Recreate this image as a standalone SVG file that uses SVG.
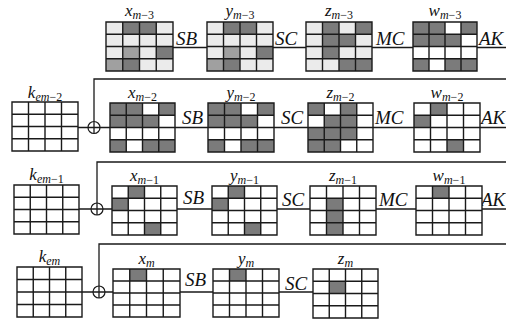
<svg xmlns="http://www.w3.org/2000/svg" xmlns:xlink="http://www.w3.org/1999/xlink" width="506" height="322" viewBox="0 0 506 322">
<style>
.bgw{fill:#fff}
.bgl{fill:#ebebeb}
.d{fill:#7b7b7b}
.m{fill:#a0a0a0}
.gl{fill:none;stroke:#1a1a1a;stroke-width:1.4;vector-effect:non-scaling-stroke}
.ln{fill:none;stroke:#1a1a1a;stroke-width:1.3}
.op{font-family:"Liberation Serif","Times New Roman",serif;font-style:italic;font-size:19px;fill:#111}
.lb{font-family:"Liberation Serif","Times New Roman",serif;font-style:italic;font-size:17px;fill:#111}
.sb{font-size:12px}
.up{font-style:normal}
.xo{fill:#fff;stroke:#1a1a1a;stroke-width:1.2}
</style>
<defs>
<path id="grid" class="gl" d="M0,0H4V4H0Z M1,0V4 M2,0V4 M3,0V4 M0,1H4 M0,2H4 M0,3H4"/>
<g id="xor"><circle class="xo" cx="0" cy="0" r="6"/><path class="ln" d="M-6,0H6M0,-6V6" stroke-width="1.1"/></g>
</defs>

<g id="connectors">
<path class="ln" d="M173,47.5H207 M273,47.5H306 M372,47.5H413 M477,47.5H506"/>
<path class="ln" d="M78,127.5H88 M100,127.5H110 M175,127.5H208 M274,127.5H308 M373,127.5H414 M480,127.5H506"/>
<path class="ln" d="M506,79H94V121.5"/>
<path class="ln" d="M79,209H91 M103,209H112 M177,209H212 M277,209H310 M376,209H416 M482,209H506"/>
<path class="ln" d="M506,162H97V203"/>
<path class="ln" d="M82,292H93 M105,292H113 M180,292H213 M279,292H313"/>
<path class="ln" d="M506,244H99V286"/>
</g>

<g id="ops">
<text class="op" x="176" y="45">SB</text>
<text class="op" x="275" y="45">SC</text>
<text class="op" x="376" y="45">MC</text>
<text class="op" x="479" y="45">AK</text>
<text class="op" x="182" y="124">SB</text>
<text class="op" x="281" y="124">SC</text>
<text class="op" x="375" y="124">MC</text>
<text class="op" x="481" y="124">AK</text>
<text class="op" x="183" y="204">SB</text>
<text class="op" x="282" y="206">SC</text>
<text class="op" x="379" y="206">MC</text>
<text class="op" x="481" y="206">AK</text>
<text class="op" x="185" y="286">SB</text>
<text class="op" x="285" y="290">SC</text>
</g>

<!-- Row m-3 -->
<g id="x_m3">
<text class="lb" x="139.5" y="16" text-anchor="middle">x<tspan class="sb" dy="3">m<tspan class="up">−3</tspan></tspan></text>
<g transform="translate(106,22) scale(16.75,12.25)">
<rect class="bgl" width="4" height="4"/>
<rect class="d" x="1" y="0" width="1" height="1"/><rect class="d" x="2" y="0" width="1" height="1"/>
<rect class="d" x="3" y="2" width="1" height="1"/><rect class="d" x="1" y="3" width="1" height="1"/>
<rect class="m" x="1" y="2" width="1" height="1"/><rect class="m" x="0" y="3" width="1" height="1"/>
<use href="#grid"/>
</g>
</g>
<g id="y_m3">
<text class="lb" x="240" y="16" text-anchor="middle">y<tspan class="sb" dy="3">m<tspan class="up">−3</tspan></tspan></text>
<g transform="translate(207,22) scale(16.5,12.25)">
<rect class="bgl" width="4" height="4"/>
<rect class="d" x="1" y="0" width="1" height="1"/><rect class="d" x="2" y="0" width="1" height="1"/>
<rect class="d" x="3" y="2" width="1" height="1"/><rect class="d" x="1" y="3" width="1" height="1"/>
<rect class="m" x="1" y="2" width="1" height="1"/><rect class="m" x="0" y="3" width="1" height="1"/>
<use href="#grid"/>
</g>
</g>
<g id="z_m3">
<text class="lb" x="339" y="16" text-anchor="middle">z<tspan class="sb" dy="3">m<tspan class="up">−3</tspan></tspan></text>
<g transform="translate(306,22) scale(16.5,12.25)">
<rect class="bgl" width="4" height="4"/>
<rect class="d" x="1" y="0" width="1" height="1"/><rect class="d" x="3" y="0" width="1" height="1"/>
<rect class="d" x="1" y="1" width="1" height="1"/><rect class="d" x="2" y="1" width="1" height="1"/>
<rect class="d" x="1" y="2" width="1" height="1"/>
<rect class="d" x="2" y="3" width="1" height="1"/><rect class="d" x="3" y="3" width="1" height="1"/>
<use href="#grid"/>
</g>
</g>
<g id="w_m3">
<text class="lb" x="445" y="16" text-anchor="middle">w<tspan class="sb" dy="3">m<tspan class="up">−3</tspan></tspan></text>
<g transform="translate(413,22) scale(16,12.25)">
<rect class="bgw" width="4" height="4"/>
<rect class="d" x="0" y="0" width="2" height="1"/><rect class="d" x="3" y="0" width="1" height="1"/>
<rect class="d" x="0" y="1" width="3" height="1"/>
<rect class="d" x="0" y="3" width="1" height="1"/><rect class="d" x="2" y="3" width="2" height="1"/>
<use href="#grid"/>
</g>
</g>

<!-- Row m-2 -->
<g id="k_em2">
<text class="lb" x="45" y="98" text-anchor="middle">k<tspan class="sb" dy="3">em<tspan class="up">−2</tspan></tspan></text>
<g transform="translate(12,102) scale(16.5,12.25)">
<rect class="bgw" width="4" height="4"/>
<use href="#grid"/>
</g>
</g>
<g id="xor2"><use href="#xor" x="94" y="127.5"/></g>
<g id="x_m2">
<text class="lb" x="142.5" y="98" text-anchor="middle">x<tspan class="sb" dy="3">m<tspan class="up">−2</tspan></tspan></text>
<g transform="translate(110,103) scale(16.25,12.25)">
<rect class="bgw" width="4" height="4"/>
<rect class="d" x="0" y="0" width="2" height="1"/><rect class="d" x="3" y="0" width="1" height="1"/>
<rect class="d" x="0" y="1" width="3" height="1"/>
<rect class="d" x="0" y="3" width="1" height="1"/><rect class="d" x="2" y="3" width="2" height="1"/>
<use href="#grid"/>
</g>
</g>
<g id="y_m2">
<text class="lb" x="241" y="98" text-anchor="middle">y<tspan class="sb" dy="3">m<tspan class="up">−2</tspan></tspan></text>
<g transform="translate(208,103) scale(16.5,12.25)">
<rect class="bgw" width="4" height="4"/>
<rect class="d" x="0" y="0" width="2" height="1"/><rect class="d" x="3" y="0" width="1" height="1"/>
<rect class="d" x="0" y="1" width="3" height="1"/>
<rect class="d" x="0" y="3" width="1" height="1"/><rect class="d" x="2" y="3" width="2" height="1"/>
<use href="#grid"/>
</g>
</g>
<g id="z_m2">
<text class="lb" x="340.5" y="98" text-anchor="middle">z<tspan class="sb" dy="3">m<tspan class="up">−2</tspan></tspan></text>
<g transform="translate(308,103) scale(16.25,12.25)">
<rect class="bgw" width="4" height="4"/>
<rect class="d" x="0" y="0" width="1" height="1"/><rect class="d" x="2" y="0" width="1" height="1"/>
<rect class="d" x="1" y="1" width="2" height="1"/>
<rect class="d" x="0" y="2" width="3" height="1"/>
<rect class="d" x="0" y="3" width="2" height="1"/>
<use href="#grid"/>
</g>
</g>
<g id="w_m2">
<text class="lb" x="447" y="98" text-anchor="middle">w<tspan class="sb" dy="3">m<tspan class="up">−2</tspan></tspan></text>
<g transform="translate(414,103) scale(16.5,12.25)">
<rect class="bgw" width="4" height="4"/>
<rect class="d" x="1" y="0" width="1" height="1"/><rect class="d" x="0" y="1" width="1" height="1"/>
<rect class="d" x="2" y="3" width="1" height="1"/>
<use href="#grid"/>
</g>
</g>

<!-- Row m-1 -->
<g id="k_em1">
<text class="lb" x="46.5" y="180" text-anchor="middle">k<tspan class="sb" dy="3">em<tspan class="up">−1</tspan></tspan></text>
<g transform="translate(14,185) scale(16.25,12.25)">
<rect class="bgw" width="4" height="4"/>
<use href="#grid"/>
</g>
</g>
<g id="xor1"><use href="#xor" x="97" y="209"/></g>
<g id="x_m1">
<text class="lb" x="144.5" y="181" text-anchor="middle">x<tspan class="sb" dy="3">m<tspan class="up">−1</tspan></tspan></text>
<g transform="translate(112,186) scale(16.25,12.25)">
<rect class="bgw" width="4" height="4"/>
<rect class="d" x="1" y="0" width="1" height="1"/><rect class="d" x="0" y="1" width="1" height="1"/>
<rect class="d" x="2" y="3" width="1" height="1"/>
<use href="#grid"/>
</g>
</g>
<g id="y_m1">
<text class="lb" x="244.5" y="181" text-anchor="middle">y<tspan class="sb" dy="3">m<tspan class="up">−1</tspan></tspan></text>
<g transform="translate(212,186) scale(16.25,12.25)">
<rect class="bgw" width="4" height="4"/>
<rect class="d" x="1" y="0" width="1" height="1"/><rect class="d" x="0" y="1" width="1" height="1"/>
<rect class="d" x="2" y="3" width="1" height="1"/>
<use href="#grid"/>
</g>
</g>
<g id="z_m1">
<text class="lb" x="343" y="181" text-anchor="middle">z<tspan class="sb" dy="3">m<tspan class="up">−1</tspan></tspan></text>
<g transform="translate(310,186) scale(16.5,12.25)">
<rect class="bgw" width="4" height="4"/>
<rect class="d" x="1" y="1" width="1" height="3"/>
<use href="#grid"/>
</g>
</g>
<g id="w_m1">
<text class="lb" x="449" y="181" text-anchor="middle">w<tspan class="sb" dy="3">m<tspan class="up">−1</tspan></tspan></text>
<g transform="translate(416,186) scale(16.5,12.25)">
<rect class="bgw" width="4" height="4"/>
<rect class="d" x="1" y="0" width="1" height="1"/>
<use href="#grid"/>
</g>
</g>

<!-- Row m -->
<g id="k_em">
<text class="lb" x="49.5" y="262" text-anchor="middle">k<tspan class="sb" dy="3">em</tspan></text>
<g transform="translate(17,267) scale(16.25,12.5)">
<rect class="bgw" width="4" height="4"/>
<use href="#grid"/>
</g>
</g>
<g id="xor0"><use href="#xor" x="99" y="292"/></g>
<g id="x_m">
<text class="lb" x="146.5" y="264" text-anchor="middle">x<tspan class="sb" dy="3">m</tspan></text>
<g transform="translate(113,269) scale(16.75,12)">
<rect class="bgw" width="4" height="4"/>
<rect class="d" x="1" y="0" width="1" height="1"/>
<use href="#grid"/>
</g>
</g>
<g id="y_m">
<text class="lb" x="246" y="264" text-anchor="middle">y<tspan class="sb" dy="3">m</tspan></text>
<g transform="translate(213,269) scale(16.5,12)">
<rect class="bgw" width="4" height="4"/>
<rect class="d" x="1" y="0" width="1" height="1"/>
<use href="#grid"/>
</g>
</g>
<g id="z_m">
<text class="lb" x="345.5" y="264" text-anchor="middle">z<tspan class="sb" dy="3">m</tspan></text>
<g transform="translate(313,269) scale(16.25,12.25)">
<rect class="bgw" width="4" height="4"/>
<rect class="d" x="1" y="1" width="1" height="1"/>
<use href="#grid"/>
</g>
</g>
</svg>
